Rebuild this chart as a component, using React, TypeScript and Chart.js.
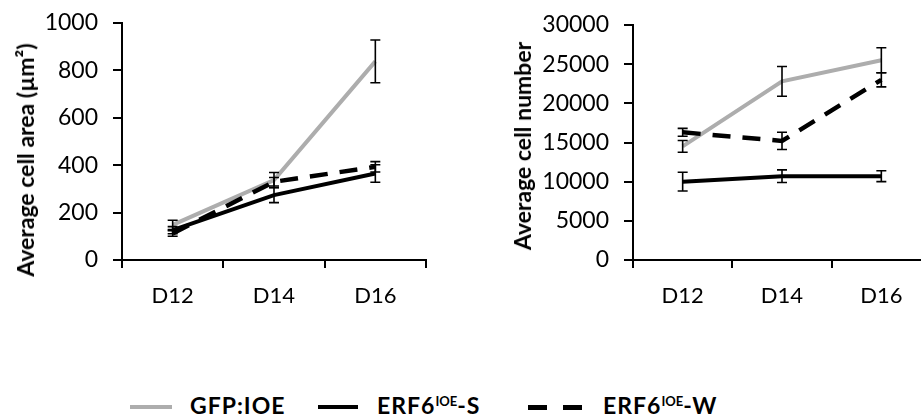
import React, { useEffect, useRef } from "react";
import { Chart, registerables } from "chart.js";

Chart.register(...registerables);

const categories = ["D12", "D14", "D16"];
const seriesNames = ["GFP:IOE", "ERF6IOE-S", "ERF6IOE-W"];

const areaGFP = [148, 337, 838];
const areaGFPErr = [20, 32, 90];
const areaS = [126, 274, 365];
const areaSErr = [15, 32, 37];
const areaW = [112, 330, 393];
const areaWErr = [12, 18, 22];

const numGFP = [14500, 22800, 25500];
const numGFPErr = [750, 1900, 1600];
const numS = [10000, 10700, 10700];
const numSErr = [1200, 800, 700];
const numW = [16300, 15200, 23000];
const numWErr = [500, 1100, 900];

const areaTicksMax = 1000;
const areaStep = 200;
const numTicksMax = 30000;
const numStep = 5000;

const GRAY = "#ADADAD";
const BLACK = "#000000";
const FONT = "Lato, 'Open Sans', sans-serif";

const errorBarPlugin = {
  id: "errorBars",
  afterDatasetsDraw(chart: any) {
    const ctx = chart.ctx;
    const yScale = chart.scales.y;
    ctx.save();
    ctx.strokeStyle = "#000";
    ctx.lineWidth = 1.6;
    chart.data.datasets.forEach((ds: any, di: number) => {
      const meta = chart.getDatasetMeta(di);
      const errs = ds.errors || [];
      meta.data.forEach((pt: any, i: number) => {
        const v = ds.data[i];
        const e = errs[i];
        if (e == null) return;
        const x = pt.x;
        const yTop = yScale.getPixelForValue(v + e);
        const yBot = yScale.getPixelForValue(v - e);
        const cap = 5;
        ctx.beginPath();
        ctx.moveTo(x, yTop);
        ctx.lineTo(x, yBot);
        ctx.moveTo(x - cap, yTop);
        ctx.lineTo(x + cap, yTop);
        ctx.moveTo(x - cap, yBot);
        ctx.lineTo(x + cap, yBot);
        ctx.stroke();
      });
    });
    ctx.restore();
  },
};

function makeConfig(
  g: number[], ge: number[], s: number[], se: number[], w: number[], we: number[],
  max: number, step: number, yWidth: number, padRight: number, padTop: number
): any {
  return {
    type: "line",
    data: {
      labels: categories,
      datasets: [
        { label: seriesNames[0], data: g, errors: ge, borderColor: GRAY, borderWidth: 4, pointRadius: 0, order: 3, tension: 0 },
        { label: seriesNames[1], data: s, errors: se, borderColor: BLACK, borderWidth: 4, pointRadius: 0, order: 2, tension: 0 },
        { label: seriesNames[2], data: w, errors: we, borderColor: BLACK, borderWidth: 4.5, borderDash: [18, 12], pointRadius: 0, order: 1, tension: 0 },
      ],
    },
    options: {
      animation: false,
      responsive: false,
      maintainAspectRatio: false,
      layout: { padding: { top: padTop, right: padRight, left: 0, bottom: 0 } },
      plugins: {
        legend: { display: false },
        tooltip: { enabled: false },
      },
      scales: {
        x: {
          type: "category",
          offset: true,
          grid: { offset: true, drawOnChartArea: false, drawTicks: true, tickLength: 8, color: "#000", lineWidth: 2 },
          border: { display: true, color: "#000", width: 2 },
          ticks: { color: "#000", font: { family: FONT, size: 22 }, padding: 15, maxRotation: 0 },
          afterFit: (sc: any) => { sc.height = 70; },
        },
        y: {
          min: 0,
          max,
          grid: { drawOnChartArea: false, drawTicks: true, tickLength: 9, color: "#000", lineWidth: 2 },
          border: { display: true, color: "#000", width: 2 },
          ticks: { stepSize: step, color: "#000", font: { family: FONT, size: 23 }, padding: 15, callback: (v: any) => String(v) },
          afterFit: (sc: any) => { sc.width = yWidth; sc.paddingTop = 0; sc.paddingBottom = 0; },
        },
      },
    },
    plugins: [errorBarPlugin],
  };
}

function ChartCanvas({ config, style, width, height }: any) {
  const ref = useRef<HTMLCanvasElement | null>(null);
  useEffect(() => {
    let chart: any = null;
    let cancelled = false;
    const make = () => {
      if (cancelled || !ref.current) return;
      chart = new Chart(ref.current, config);
    };
    const fontsApi: any = (document as any).fonts;
    if (fontsApi && fontsApi.load) {
      fontsApi.load(`23px Lato`).then(make, make);
    } else {
      make();
    }
    return () => {
      cancelled = true;
      if (chart) chart.destroy();
    };
  }, []);
  return <canvas ref={ref} width={width} height={height} style={{ position: "absolute", ...style, width, height }} />;
}

function AxisTitle({ cx, cy, children }: any) {
  return (
    <div style={{
      position: "absolute", left: cx, top: cy, transform: "translate(-50%, -50%) rotate(-90deg)",
      font: `bold 23px ${FONT}`, color: "#000", whiteSpace: "nowrap", lineHeight: "28px",
    }}>
      {children}
    </div>
  );
}

function LegendLine({ color, dashed, left, width }: any) {
  if (!dashed) {
    return <div style={{ position: "absolute", left, top: 405, width, height: 4, background: color }} />;
  }
  return (
    <>
      <div style={{ position: "absolute", left, top: 405, width: 19, height: 5, background: color }} />
      <div style={{ position: "absolute", left: left + 35, top: 405, width: 19, height: 5, background: color }} />
    </>
  );
}

function LegendText({ left, children }: any) {
  return (
    <div style={{ position: "absolute", left, top: 390, font: `bold 23px ${FONT}`, letterSpacing: "1px", color: "#000", whiteSpace: "nowrap", lineHeight: "30px" }}>
      {children}
    </div>
  );
}

const supStyle: any = { fontSize: 13, verticalAlign: "8px", lineHeight: 0, letterSpacing: 0 };

export default function App() {
  const leftCfg = makeConfig(areaGFP, areaGFPErr, areaS, areaSErr, areaW, areaWErr, areaTicksMax, areaStep, 122, 34, 23);
  const rightCfg = makeConfig(numGFP, numGFPErr, numS, numSErr, numW, numWErr, numTicksMax, numStep, 173, 9, 25);
  return (
    <div style={{ position: "fixed", left: 0, top: 0, width: 921, height: 419, overflow: "hidden", background: "#fff" }}>
      <ChartCanvas config={leftCfg} width={460} height={330} style={{ left: 0, top: 0 }} />
      <ChartCanvas config={rightCfg} width={480} height={330} style={{ left: 460, top: 0 }} />
      <AxisTitle cx={25} cy={160}>Average cell area (µm²)</AxisTitle>
      <AxisTitle cx={522} cy={146}>Average cell number</AxisTitle>
      <LegendLine color={GRAY} left={130} width={42} />
      <LegendText left={190}>GFP:IOE</LegendText>
      <LegendLine color={BLACK} left={318} width={40} />
      <LegendText left={377}>ERF6<sup style={supStyle}>IOE</sup>-S</LegendText>
      <LegendLine color={BLACK} dashed left={528} width={54} />
      <LegendText left={603}>ERF6<sup style={supStyle}>IOE</sup>-W</LegendText>
    </div>
  );
}
